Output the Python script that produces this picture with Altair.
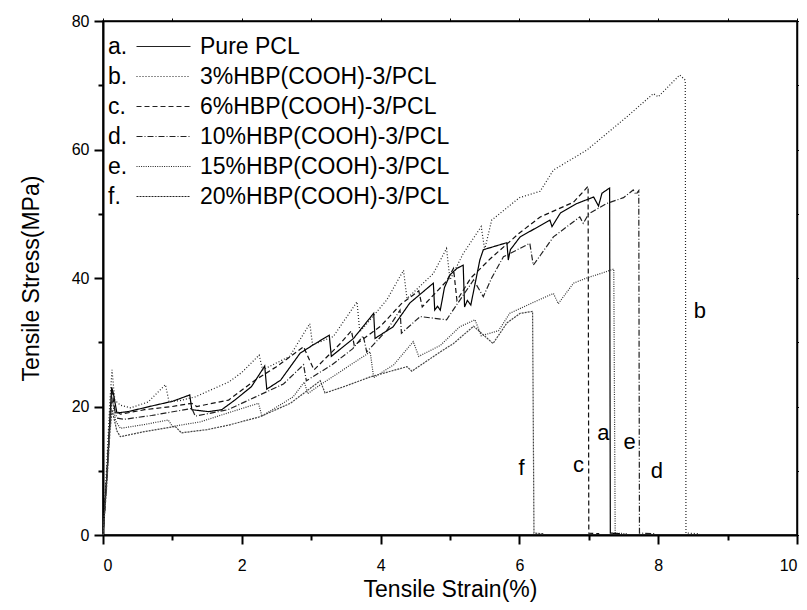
import altair as alt
import pandas as pd

FONT = "Liberation Sans"

# ---- series data (strain %, stress MPa) ----
a_x = [0, 0.06, 0.11, 0.125, 0.15, 0.2, 0.36, 0.75, 1.0, 1.25, 1.28, 1.52, 1.71, 1.9, 2.14, 2.33, 2.36, 2.56, 2.84, 3.03, 3.26, 3.29, 3.61, 3.9, 3.92, 4.18, 4.42, 4.76, 4.78, 4.82, 4.86, 4.92, 5.0, 5.1, 5.19, 5.21, 5.25, 5.3, 5.43, 5.48, 5.82, 5.84, 5.87, 6.01, 6.44, 6.47, 6.59, 6.83, 7.07, 7.14, 7.19, 7.3, 7.31, 7.45]
a_y = [0, 10, 20, 23.0, 22, 19, 19.2, 20.2, 20.8, 21.8, 19.5, 19.2, 19.5, 21.0, 23.1, 26.3, 22.7, 24.1, 28.3, 29.6, 31.1, 27.8, 30.6, 34.5, 30.6, 32.4, 36.1, 39.2, 35.0, 35.6, 35.0, 38.5, 40.5, 41.5, 42.0, 35.5, 36.5, 35.8, 42.8, 44.4, 45.5, 42.8, 44.4, 46.4, 49.0, 48.0, 50.1, 51.6, 52.6, 51.2, 53.2, 54.0, 0.3, 0.2]

b_x = [0, 0.05, 0.1, 0.13, 0.17, 0.25, 0.4, 0.65, 0.9, 0.95, 1.1, 1.33, 1.6, 1.81, 2.0, 2.25, 2.3, 2.69, 2.98, 3.02, 3.32, 3.66, 3.7, 4.09, 4.33, 4.38, 4.76, 4.95, 5.0, 5.19, 5.45, 5.5, 5.6, 6.0, 6.3, 6.49, 6.97, 7.26, 7.55, 7.93, 8.0, 8.31, 8.39, 8.4, 8.6]
b_y = [0, 10, 21, 25.7, 21, 20.2, 19.8, 20.7, 23.4, 20.8, 20.9, 21.5, 22.8, 23.8, 25.3, 28.0, 25.7, 27.8, 32.9, 29.6, 30.9, 36.3, 31.6, 36.6, 41.2, 36.8, 40.7, 44.6, 39.7, 43.8, 48.0, 44.4, 49.0, 52.5, 53.5, 56.8, 59.9, 62.5, 65.1, 68.7, 68.2, 71.6, 70.8, 0.3, 0.2]

c_x = [0, 0.06, 0.11, 0.13, 0.17, 0.25, 0.6, 1.0, 1.28, 1.35, 1.81, 2.19, 2.5, 2.89, 3.04, 3.42, 3.58, 3.62, 4.0, 4.3, 4.55, 4.6, 4.95, 5.05, 5.1, 5.3, 5.58, 6.0, 6.3, 6.78, 6.95, 6.99, 7.0, 7.15]
c_y = [0, 10, 20, 22.5, 19.5, 18.8, 19.5, 20.0, 20.5, 20.0, 21.0, 24.1, 26.2, 29.3, 25.7, 29.8, 31.8, 29.5, 32.5, 36.0, 38.0, 35.5, 39.5, 41.5, 36.5, 40.0, 43.0, 47.0, 49.5, 51.8, 53.8, 54.3, 0.3, 0.2]

d_x = [0, 0.06, 0.11, 0.13, 0.2, 0.3, 0.7, 1.28, 1.33, 1.8, 2.2, 2.6, 2.89, 2.93, 3.3, 3.6, 3.75, 3.8, 4.1, 4.28, 4.3, 4.57, 4.95, 5.34, 5.48, 5.6, 5.77, 6.15, 6.2, 6.3, 6.49, 6.87, 6.92, 7.0, 7.26, 7.5, 7.64, 7.68, 7.72, 7.73, 7.95]
d_y = [0, 10, 19, 21, 18.2, 18.0, 18.6, 19.7, 18.5, 19.5, 21.5, 23.5, 26.5, 24.0, 26.5, 29.0, 31.0, 28.5, 32.0, 35.0, 31.4, 34.0, 33.5, 39.7, 37.1, 40.0, 43.3, 45.4, 42.0, 43.5, 46.4, 49.5, 48.5, 50.0, 51.6, 52.5, 53.7, 53.0, 53.6, 0.3, 0.2]

e_x = [0, 0.05, 0.1, 0.13, 0.18, 0.25, 0.6, 0.94, 1.0, 1.4, 1.8, 2.24, 2.29, 2.74, 2.9, 2.95, 3.08, 3.5, 3.85, 3.9, 4.19, 4.47, 4.55, 4.86, 5.14, 5.36, 5.45, 5.7, 5.86, 6.2, 6.49, 6.56, 6.78, 6.97, 7.2, 7.36, 7.38, 7.55]
e_y = [0, 8, 18, 21.5, 17.8, 16.6, 17.2, 17.9, 16.9, 17.6, 19.0, 20.5, 18.5, 21.5, 23.8, 22.0, 23.0, 26.0, 28.5, 24.5, 26.5, 30.1, 27.8, 29.5, 32.4, 33.5, 31.0, 31.8, 34.5, 36.2, 37.6, 36.0, 39.2, 40.0, 40.8, 41.4, 0.3, 0.2]

f_x = [0, 0.05, 0.1, 0.13, 0.2, 0.25, 0.6, 1.04, 1.13, 1.5, 1.81, 2.26, 2.7, 3.13, 3.2, 3.5, 3.85, 4.38, 4.45, 4.86, 5.05, 5.34, 5.62, 5.82, 6.01, 6.19, 6.21, 6.35]
f_y = [0, 7, 16, 19.5, 16.2, 15.3, 16.1, 16.9, 15.9, 16.4, 17.1, 18.4, 20.5, 24.0, 22.1, 23.2, 24.6, 26.2, 25.5, 28.5, 29.8, 32.5, 29.8, 33.0, 34.5, 34.8, 0.3, 0.2]

letters = ["a.", "b.", "c.", "d.", "e.", "f."]
names = ["Pure PCL", "3%HBP(COOH)-3/PCL", "6%HBP(COOH)-3/PCL",
         "10%HBP(COOH)-3/PCL", "\u200215%HBP(COOH)-3/PCL", "20%HBP(COOH)-3/PCL"]
xs = [a_x, b_x, c_x, d_x, e_x, f_x]
ys = [a_y, b_y, c_y, d_y, e_y, f_y]

# in-plot curve labels
label_text = ["a", "b", "c", "d", "e", "f"]
label_x = [7.21, 8.6, 6.85, 7.98, 7.59, 6.03]
label_y = [15.8, 34.8, 10.9, 9.9, 14.5, 10.4]

line_colors = ["#000000", "#222222", "#111111", "#222222", "#333333", "#444444"]
line_dashes = [[1, 0], [1, 2], [5, 3], [6, 2, 1, 2], [1, 1.3], [2, 1]]

rows = []
for letter, name, sx, sy in zip(letters, names, xs, ys):
    for i, (vx, vy) in enumerate(zip(sx, sy)):
        rows.append({"letter": letter, "name": name, "strain": vx, "stress": vy, "idx": i})
df = pd.DataFrame(rows)
lab_df = pd.DataFrame({"strain": label_x, "stress": label_y, "t": label_text})

xscale = alt.Scale(domain=[0, 10], nice=False, zero=False)
yscale = alt.Scale(domain=[0, 80], nice=False, zero=False)

common_legend = dict(orient="none", title=None, padding=0, rowPadding=6,
                     labelFontSize=23, labelFont=FONT, labelColor="black",
                     legendY=14, labelLimit=500, direction="vertical")

lines = alt.Chart(df).mark_line(strokeWidth=1.2).encode(
    x=alt.X("strain:Q", scale=xscale,
            axis=alt.Axis(orient="bottom", values=[0, 2, 4, 6, 8, 10], tickSize=9,
                          labelFontSize=16, labelPadding=13, title="Tensile Strain(%)",
                          titleFontSize=23, titlePadding=5, domainWidth=2, tickWidth=2)),
    y=alt.Y("stress:Q", scale=yscale,
            axis=alt.Axis(orient="left", values=[0, 20, 40, 60, 80], tickSize=9,
                          labelFontSize=16, labelPadding=5, title="Tensile Stress(MPa)",
                          titleFontSize=23, titlePadding=28, domainWidth=2, tickWidth=2)),
    color=alt.Color("letter:N", scale=alt.Scale(domain=letters, range=line_colors),
                    legend=alt.Legend(legendX=-18, symbolSize=0, symbolOpacity=0,
                                      symbolStrokeWidth=0, labelOffset=0, **common_legend)),
    strokeDash=alt.StrokeDash("name:N", scale=alt.Scale(domain=names, range=line_dashes),
                              legend=alt.Legend(legendX=49, symbolType="M-2.7,0H2.7", symbolSize=400,
                                                symbolStrokeColor="#222222", symbolStrokeWidth=1.1,
                                                labelOffset=25, **common_legend)),
    order=alt.Order("idx:Q"),
)

minor = alt.Chart(df).mark_point(opacity=0).encode(
    x=alt.X("strain:Q", scale=xscale,
            axis=alt.Axis(orient="bottom", values=[1, 3, 5, 7, 9], tickSize=5, tickWidth=2,
                          labels=False, domain=False, title=None)),
    y=alt.Y("stress:Q", scale=yscale,
            axis=alt.Axis(orient="left", values=[10, 30, 50, 70], tickSize=5, tickWidth=2,
                          labels=False, domain=False, title=None)),
)

frame = alt.Chart(df).mark_point(opacity=0).encode(
    x=alt.X("strain:Q", scale=xscale,
            axis=alt.Axis(orient="top", values=list(range(11)), tickSize=3,
                          labels=False, title=None, domainWidth=1.5)),
    y=alt.Y("stress:Q", scale=yscale,
            axis=alt.Axis(orient="right", values=list(range(0, 81, 10)), tickSize=3,
                          labels=False, title=None, domainWidth=1.5)),
)

labels = alt.Chart(lab_df).mark_text(fontSize=22, font=FONT, color="black").encode(
    x=alt.X("strain:Q", scale=xscale, axis=None),
    y=alt.Y("stress:Q", scale=yscale, axis=None),
    text="t:N",
)

chart = alt.layer(lines, minor, frame, labels).resolve_axis(
    x="independent", y="independent"
).properties(
    width=694, height=514,
    padding={"left": 95, "top": 13, "right": 2, "bottom": 67},
    autosize=alt.AutoSizeParams(type="none"),
).configure_axis(
    grid=False, labelFont=FONT, titleFont=FONT, titleFontWeight="normal",
    domainColor="black", tickColor="black", labelColor="black", titleColor="black",
).configure_view(stroke="black", strokeWidth=1.5)

chart.save("out.html", embed_options={"renderer": "svg", "actions": False})
